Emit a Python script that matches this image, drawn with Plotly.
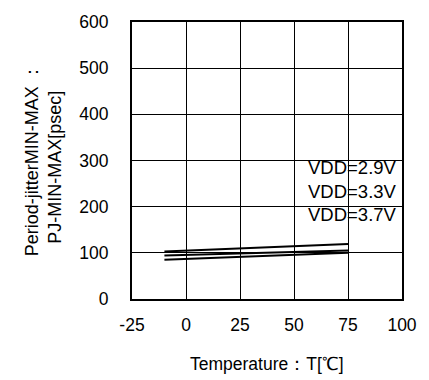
import plotly.graph_objects as go

temperature = [-10, 25, 75]
pj_vdd29 = [103, 110, 119]
pj_vdd33 = [94, 99, 105]
pj_vdd37 = [85, 91, 100]
series_names = ["VDD=2.9V", "VDD=3.3V", "VDD=3.7V"]
label_y = [285, 233, 183]
x_ticks = [-25, 0, 25, 50, 75, 100]
y_ticks = [0, 100, 200, 300, 400, 500, 600]

FONT = "Liberation Sans, Arial, sans-serif"
fig = go.Figure()
for name, vals in zip(series_names, [pj_vdd29, pj_vdd33, pj_vdd37]):
    fig.add_trace(go.Scatter(x=temperature, y=vals, mode="lines", name=name,
                             line=dict(color="black", width=2), showlegend=False))

for name, yv in zip(series_names, label_y):
    fig.add_annotation(x=0.99, xref="paper", y=yv, yref="y", text=name,
                       showarrow=False, xanchor="right", yanchor="middle",
                       font=dict(size=18.5, color="black", family=FONT))

fig.add_annotation(x=-0.372, xref="paper", y=0.503, yref="paper",
                   text="Period-jitterMIN-MAX ：", textangle=-90, showarrow=False,
                   xanchor="center", yanchor="middle",
                   font=dict(size=18, color="black", family=FONT))
fig.add_annotation(x=-0.284, xref="paper", y=0.475, yref="paper",
                   text="PJ-MIN-MAX[psec]", textangle=-90, showarrow=False,
                   xanchor="center", yanchor="middle",
                   font=dict(size=18, color="black", family=FONT))
fig.add_annotation(x=0.5, xref="paper", y=-0.236, yref="paper",
                   text="Temperature：T[℃]", showarrow=False,
                   xanchor="center", yanchor="middle",
                   font=dict(size=17.5, color="black", family=FONT))

axis_common = dict(showgrid=True, gridcolor="black", gridwidth=1,
                   showline=True, linecolor="black", linewidth=2, mirror=True,
                   zeroline=False, ticks="",
                   tickfont=dict(size=17.5, color="black", family=FONT))
fig.update_xaxes(range=[-25, 100], tickvals=x_ticks, ticktext=[str(v) for v in x_ticks],
                 ticklabelstandoff=9, **axis_common)
fig.update_yaxes(range=[0, 600], tickvals=y_ticks, ticktext=[str(v) for v in y_ticks],
                 ticklabelstandoff=18, **axis_common)

fig.update_layout(width=429, height=380,
                  margin=dict(l=132, r=25, t=14, b=81, pad=0),
                  paper_bgcolor="white", plot_bgcolor="white",
                  font=dict(family=FONT, color="black"))
fig.write_html("out.html")
